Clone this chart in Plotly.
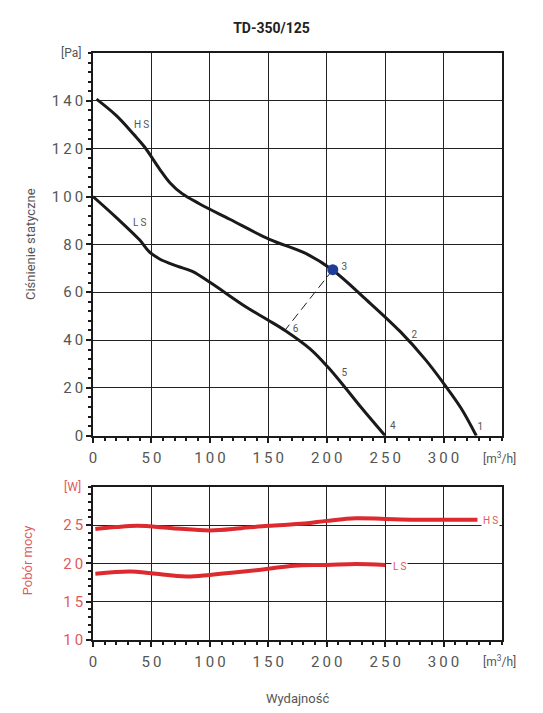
import plotly.graph_objects as go

# static pressure curves [Pa] vs airflow [m3/h]
hs_flow = [3, 20, 35, 44, 57, 66, 76, 91, 117, 151, 182, 205, 234, 263, 285, 300, 315, 328]
hs_pressure = [140.7, 133.8, 125.9, 120.8, 111.5, 105.7, 101.3, 97, 90.5, 82.1, 76.2, 69.3, 56.8,
               43.5, 31.5, 21.9, 11.5, 0]
ls_flow = [0, 20, 40, 48, 57, 72, 85, 101, 131, 150, 165, 186, 201, 214, 229, 250]
ls_pressure = [100, 91.2, 81.8, 77, 73.9, 70.9, 68.7, 63.8, 53.8, 48.3, 43.8, 36.2, 28.7, 21.2, 12.1, 0]

# working point 3 and its projection 6 on the LS curve
point_flow = [205.2, 164.3]
point_pressure = [69.4, 44.1]

# numbered points
num_labels = ["1", "2", "3", "4", "5", "6"]
num_flow = [331.4, 275, 215, 256.6, 215, 173.4]
num_pressure = [3.5, 41.7, 70.5, 3.8, 26, 44.5]

# power consumption [W]
hs_pw_flow = [2, 20, 38, 68, 100, 127, 150, 181, 200, 225, 250, 276, 329]
hs_power = [24.5, 24.75, 24.9, 24.6, 24.3, 24.6, 24.9, 25.2, 25.55, 25.9, 25.8, 25.7, 25.7]
ls_pw_flow = [2, 32, 50, 80, 100, 127, 150, 172, 200, 225, 250]
ls_power = [18.65, 18.93, 18.7, 18.3, 18.5, 18.9, 19.3, 19.7, 19.8, 19.93, 19.8]

x_ticks = [0, 50, 100, 150, 200, 250, 300]
p_ticks = [0, 20, 40, 60, 80, 100, 120, 140]
w_ticks = [10, 15, 20, 25]

BLACK = "#1a1a1a"
GRAY = "#555555"
RED = "#dc2a2e"
RED_TXT = "#e05a5d"
FONT = "Roboto"


def spaced(v):
    return "\u2009".join(str(v))


fig = go.Figure()

for xs, ys in [(hs_flow, hs_pressure), (ls_flow, ls_pressure)]:
    fig.add_trace(go.Scatter(x=xs, y=ys, mode="lines",
                             line=dict(color=BLACK, width=3, shape="spline", smoothing=1.0),
                             xaxis="x", yaxis="y", showlegend=False, hoverinfo="skip"))

fig.add_trace(go.Scatter(x=point_flow, y=point_pressure, mode="lines",
                         line=dict(color=BLACK, width=1, dash="9px,5px"),
                         xaxis="x", yaxis="y", showlegend=False))
fig.add_trace(go.Scatter(x=point_flow[:1], y=point_pressure[:1], mode="markers",
                         marker=dict(color="#1f3c99", size=11),
                         xaxis="x", yaxis="y", showlegend=False))
fig.add_trace(go.Scatter(x=num_flow, y=num_pressure, mode="text", text=num_labels,
                         textfont=dict(family=FONT, size=10, color=GRAY),
                         xaxis="x", yaxis="y", showlegend=False))

for xs, ys in [(hs_pw_flow, hs_power), (ls_pw_flow, ls_power)]:
    fig.add_trace(go.Scatter(x=xs, y=ys, mode="lines",
                             line=dict(color=RED, width=4, shape="spline", smoothing=1.0),
                             xaxis="x2", yaxis="y2", showlegend=False))

axis_common = dict(
    showgrid=True, gridcolor="#222222", gridwidth=1,
    showline=True, linecolor=BLACK, linewidth=1.6, mirror=True,
    ticks="outside", ticklen=5, tickwidth=1.5, tickcolor=BLACK,
    zeroline=False,
)
x_minor = dict(dtick=10, tick0=0, ticks="outside", ticklen=3, tickcolor=BLACK, showgrid=False)

# page body adds 8px offset, so the figure is 8px smaller and shifted
fig.update_layout(
    width=535, height=705, autosize=False,
    paper_bgcolor="white", plot_bgcolor="white",
    margin=dict(l=85, r=41, t=45, b=73),
    font=dict(family=FONT),
    title=dict(text="<b>TD-350/125</b>", x=263.5 / 535, xref="container", y=1 - 20 / 705, yref="container",
               xanchor="center", yanchor="middle", font=dict(family=FONT, size=14, color="#222222")),
    xaxis=dict(axis_common, domain=[0, 1], anchor="y", range=[0, 350],
               tickvals=x_ticks, ticktext=[spaced(v) for v in x_ticks],
               tickfont=dict(size=15, color=GRAY), ticklabelstandoff=2, minor=x_minor),
    yaxis=dict(axis_common, domain=[0.348, 1], anchor="x", range=[0, 160],
               tickvals=p_ticks, ticktext=[spaced(v) for v in p_ticks],
               tickfont=dict(size=15, color=GRAY), ticklabelstandoff=0,
               minor=dict(dtick=4, tick0=0, ticks="outside", ticklen=3, tickcolor=BLACK, showgrid=False)),
    xaxis2=dict(axis_common, domain=[0, 1], anchor="y2", range=[0, 350],
                tickvals=x_ticks, ticktext=[spaced(v) for v in x_ticks],
                tickfont=dict(size=15, color=GRAY), ticklabelstandoff=2, minor=x_minor),
    yaxis2=dict(axis_common, domain=[0, 0.261], anchor="x2", range=[10, 30],
                tickvals=w_ticks, ticktext=[spaced(v) for v in w_ticks],
                tickfont=dict(size=15, color=RED_TXT), ticklabelstandoff=0,
                minor=dict(dtick=1, tick0=10, ticks="outside", ticklen=3, tickcolor=BLACK, showgrid=False)),
)

unit_font = dict(family=FONT, size=12, color=GRAY)
mid = dict(showarrow=False, xanchor="center", yanchor="middle")
ann = [
    dict(mid, text="Ciśnienie statyczne", xref="paper", yref="paper", x=-0.154, y=0.6746, textangle=-90,
         font=dict(family=FONT, size=13, color=GRAY)),
    dict(mid, text="Pobór mocy", xref="paper", yref="paper", x=-0.161, y=0.136, textangle=-90,
         font=dict(family=FONT, size=13, color=RED_TXT)),
    dict(mid, text="Wydajność", xref="paper", yref="paper", x=0.5, y=-0.1005,
         font=dict(family=FONT, size=13, color=GRAY)),
    dict(mid, text="[Pa]", xref="paper", yref="y", x=-0.0245, y=160, xanchor="right", font=unit_font),
    dict(mid, text="[W]", xref="paper", yref="y2", x=-0.0245, y=30, xanchor="right",
         font=dict(family=FONT, size=12, color=RED_TXT)),
    dict(mid, text="[m<sup>3</sup>/h]", xref="x", yref="paper", x=347.7, y=0.31, font=unit_font),
    dict(mid, text="[m<sup>3</sup>/h]", xref="x2", yref="paper", x=347.7, y=-0.036, font=unit_font),
    dict(mid, text="H\u2009S", xref="x", yref="y", x=41.5, y=130.3, font=dict(family=FONT, size=10, color=GRAY)),
    dict(mid, text="L\u2009S", xref="x", yref="y", x=39.5, y=89.2, font=dict(family=FONT, size=10, color=GRAY)),
    dict(mid, text="H\u2009S", xref="x2", yref="y2", x=340, y=25.65, bgcolor="white",
         font=dict(family=FONT, size=10, color=RED_TXT)),
    dict(mid, text="L\u2009S", xref="x2", yref="y2", x=262.6, y=19.6, bgcolor="white",
         font=dict(family=FONT, size=10, color=RED_TXT)),
]
fig.update_layout(annotations=ann)

fig.write_html("out.html")
